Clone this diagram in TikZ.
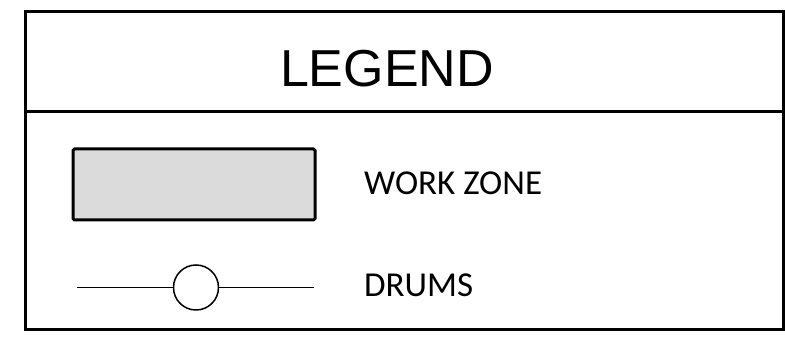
\documentclass[tikz,border=0pt]{standalone}
\usepackage{fontspec}
\setmainfont{Carlito}
\newfontfamily\titlefont{Liberation Sans}
\begin{document}
\begin{tikzpicture}[x=1pt,y=1pt,
  frame/.style={draw=black,line width=3pt,inner sep=0pt,outer sep=0pt},
  zonebox/.style={draw=black,fill=black!14,line width=3pt,rounded corners=1.5pt,inner sep=0pt,outer sep=0pt,minimum width=242pt,minimum height=71pt},
  drum/.style={circle,draw=black,line width=1.5pt,fill=white,inner sep=0pt,minimum size=45pt},
  thinline/.style={line width=1.5pt},
  lbl/.style={anchor=base west,inner sep=0pt,font=\fontsize{35}{40}\selectfont}]
\useasboundingbox (0,0) rectangle (785,339);
\node[frame,minimum width=758pt,minimum height=318pt] (outer) at (404,168) {};
\coordinate (divl) at (25,227);
\coordinate (divr) at (783,227);
\draw[line width=3pt] (divl) -- (divr);
\node[anchor=base,inner sep=0pt,font=\titlefont\fontsize{52}{60}\selectfont] (title) at (387,252) {LEGEND};
\node[zonebox] (zone) at (194,154.5) {};
\node[lbl] (zonelbl) at (364,144) {WORK ZONE};
\node[drum] (drumc) at (196,51.5) {};
\coordinate (dl) at (77,51.5);
\coordinate (dr) at (314,51.5);
\draw[thinline] (dl) -- (drumc.west);
\draw[thinline] (drumc.east) -- (dr);
\node[lbl] (drumlbl) at (364,42) {DRUMS};
\end{tikzpicture}
\end{document}
